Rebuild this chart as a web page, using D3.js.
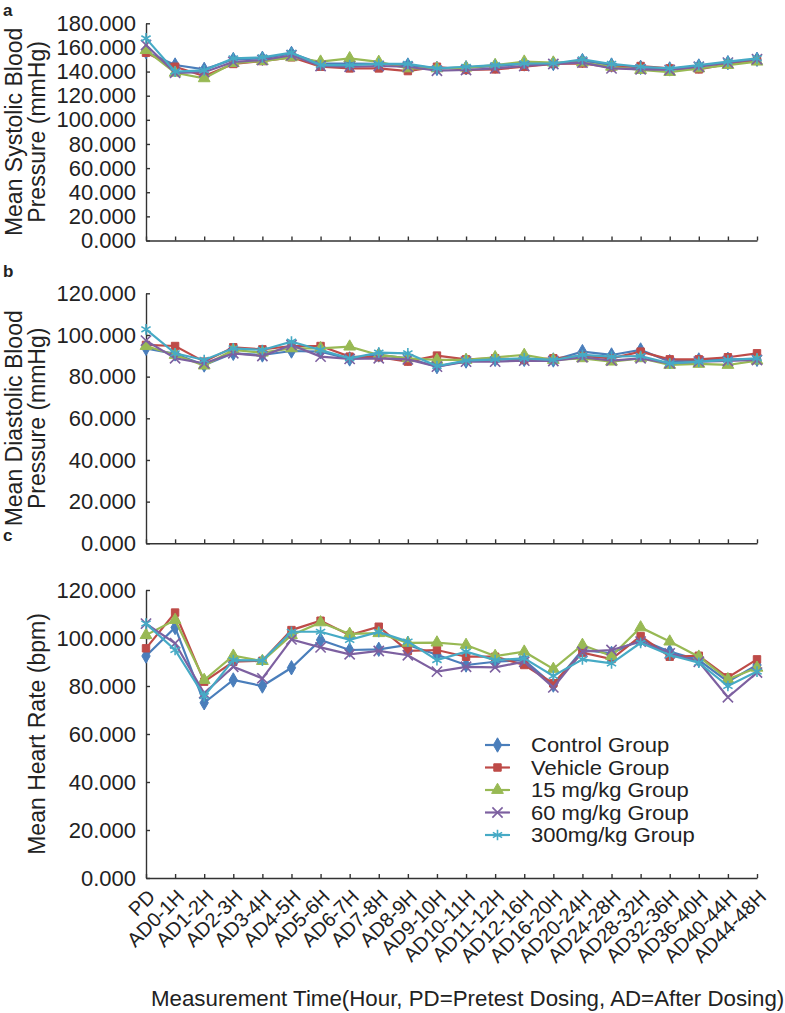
<!DOCTYPE html>
<html><head><meta charset="utf-8">
<script src="https://cdn.jsdelivr.net/npm/d3@7"></script>
<style>
body{margin:0;background:#fff;}
text{font-family:"Liberation Sans",Arial,sans-serif;fill:#222;}
</style></head>
<body><svg id="c" width="785" height="1013"></svg>
<script>
const categories = ["PD","AD0-1H","AD1-2H","AD2-3H","AD3-4H","AD4-5H","AD5-6H","AD6-7H","AD7-8H","AD8-9H","AD9-10H","AD10-11H","AD11-12H","AD12-16H","AD16-20H","AD20-24H","AD24-28H","AD28-32H","AD32-36H","AD36-40H","AD40-44H","AD44-48H"];
const groups = ["Control Group","Vehicle Group","15 mg/kg Group","60 mg/kg Group","300mg/kg Group"];

// Panel a: systolic BP
const sbpControl = [156.5,145.4,141.8,150,151,155,146.7,146.7,146.3,145.4,142.6,143.2,144.5,146.3,146.7,149.1,145.4,143.5,142.2,144.6,147.4,150.2];
const sbpVehicle = [155.6,144,136.3,146.3,148.7,151.8,144,142.6,142.6,140.4,144,141.3,141.8,144,146.3,146.7,143.5,144.6,142.6,141.8,146.3,149.1];
const sbp15 = [157.8,139,134.4,147,148.7,151.8,148.2,151,148,142.6,142.6,143.2,145.4,148.2,147.4,147.4,144,141.3,139.6,142.6,145.4,148.2];
const sbp60 = [162,139,139.5,148,149.5,153.5,144.6,144,144.6,144,140.7,141.3,142.6,144.6,146.3,147.4,142.6,141.8,141.3,144,147.4,150.2];
const sbp300 = [167.5,140,141,151,151.8,155.6,145.4,145.4,146.3,146.3,142.6,144,145.4,146.7,146.7,150.2,146.3,144,142.6,145.4,148.2,151];

// Panel b: diastolic BP
const dbpControl = [93.6,90.9,85.6,91.2,90.4,92.3,92,88.5,90.4,88.8,84.8,87.5,88.3,88.3,88,92,90.4,92.8,87.2,88,88.3,88.3];
const dbpVehicle = [95.2,94.7,87.2,94.1,93.1,94.7,94.7,89.6,89.3,87.2,90.1,88.3,88.8,88,88.8,89.9,88.8,92,88.3,88.3,89.3,91.2];
const dbp15 = [94.7,90.4,85.3,92.8,91.5,93.6,93.6,94.4,90.4,88.8,88,88,89.3,90.4,88,88.8,87.2,88.8,85.6,86.1,85.6,87.7];
const dbp60 = [97.3,88.8,86.4,91.2,89.9,95.2,89.6,88.5,88.8,88.3,84.8,87.2,87.2,87.7,87.5,89.3,87.7,88.8,86.4,87.2,87.5,88];
const dbp300 = [102.7,91.2,88,93.6,92.8,96.8,92.8,88.8,91.5,91.2,85.1,87.7,88.3,88.8,88,90.4,89.6,89.9,86.4,87.2,88,88.8];

// Panel c: heart rate
const hrControl = [92.5,104.4,73,82.5,80,87.6,99.2,95,95.3,97.1,93,88.75,90.1,90.8,80.4,95,93.6,99.4,94.3,90.8,81.8,88.75];
const hrVehicle = [95.7,110.6,81.8,90.1,90.5,103.3,107.2,101.2,104.7,94.6,95,92.2,92.2,88.75,81.1,93.9,91.25,100.8,92.2,92.6,83.6,91.1];
const hr15 = [101.2,107.5,82.5,92.6,90.4,101.2,106.5,101.7,102,98,98.1,97.1,92.5,94.3,87.1,97.1,92.5,104.4,98.5,92.2,82.8,87.6];
const hr60 = [106,97.8,77,88,83.2,99.4,96.1,93.2,94.6,92.8,86,88,87.8,90.1,79.4,94.3,95,98.5,93.6,90.1,75.3,85.6];
const hr300 = [106,95,75.8,90.8,90.6,102.6,102.6,99.2,102.5,98.5,90.8,94.3,90.8,91.5,84.2,91.1,89.4,98,92.9,89.7,80,86];

const ticksA = [0,20,40,60,80,100,120,140,160,180];
const ticksBC = [0,20,40,60,80,100,120];

const colors = ["#4a7ebb","#be4b48","#98b954","#7d60a0","#46aac5"];
const symbols = [
  {t:d3.symbolDiamond, s:60, fill:true},
  {t:d3.symbolSquare, s:55, fill:true},
  {t:d3.symbolTriangle, s:60, fill:true},
  {t:d3.symbolTimes, s:70, fill:false},
  {t:d3.symbolAsterisk, s:80, fill:false}
];

const svg = d3.select("#c");
const x = d3.scalePoint().domain(categories).range([146, 757]).padding(0);

const panels = [
  {label:"a", series:[sbpControl,sbpVehicle,sbp15,sbp60,sbp300], max:180, ticks:ticksA, y0:240.5, y1:23.3, title:["Mean Systolic Blood","Pressure (mmHg)"], labelY:16},
  {label:"b", series:[dbpControl,dbpVehicle,dbp15,dbp60,dbp300], max:120, ticks:ticksBC, y0:543.3, y1:293.3, title:["Mean Diastolic Blood","Pressure (mmHg)"], labelY:277},
  {label:"c", series:[hrControl,hrVehicle,hr15,hr60,hr300], max:120, ticks:ticksBC, y0:878, y1:590, title:["Mean Heart Rate (bpm)"], labelY:541}
];

function drawMarker(g, k, cx, cy){
  const sym = symbols[k];
  g.append("path")
    .attr("d", d3.symbol().type(sym.t).size(sym.s)())
    .attr("transform", `translate(${cx},${cy})`)
    .attr("fill", sym.fill ? colors[k] : "none")
    .attr("stroke", colors[k])
    .attr("stroke-width", sym.fill ? 1 : 1.6);
}

panels.forEach((p, pi) => {
  const y = d3.scaleLinear().domain([0, p.max]).range([p.y0, p.y1]);
  const g = svg.append("g");
  // y axis
  const ya = g.append("g").attr("transform", `translate(146,0)`)
    .call(d3.axisLeft(y).tickValues(p.ticks).tickSizeInner(-4).tickSizeOuter(0).tickPadding(10).tickFormat(d3.format(".3f")));
  ya.attr("font-size", 22).attr("font-family", "'Liberation Sans',Arial,sans-serif");
  ya.selectAll("text").attr("font-size", 22).style("font-size","22px").attr("fill","#222");
  ya.selectAll("line,path").attr("stroke","#333").attr("stroke-width",1.4);
  // x axis
  const xa = g.append("g").attr("transform", `translate(0,${p.y0})`)
    .call(d3.axisBottom(x).tickSizeInner(-4).tickSizeOuter(0).tickFormat(""));
  xa.selectAll("line,path").attr("stroke","#333").attr("stroke-width",1.4);
  if (pi === 2) {
    xa.attr("font-size", 20).attr("font-family", "'Liberation Sans',Arial,sans-serif");
    xa.selectAll(".tick").append("text")
      .text(d => d)
      .attr("transform", "translate(5,15) rotate(-45)")
      .attr("text-anchor","end")
      .attr("dy","0.35em")
      .style("font-size","20px")
      .attr("fill","#222");
  }
  // y title
  const cy = (p.y0 + p.y1) / 2;
  if (p.title.length === 2) {
    g.append("text").attr("transform",`translate(22,${cy}) rotate(-90)`).attr("text-anchor","middle").style("font-size","23px").text(p.title[0]);
    g.append("text").attr("transform",`translate(45,${cy}) rotate(-90)`).attr("text-anchor","middle").style("font-size","23px").text(p.title[1]);
  } else {
    g.append("text").attr("transform",`translate(45,${cy}) rotate(-90)`).attr("text-anchor","middle").style("font-size","23px").text(p.title[0]);
  }
  // panel label
  g.append("text").attr("x",3).attr("y",p.labelY).style("font-size","17px").style("font-weight","bold").text(p.label);
  // series
  const line = d3.line().x((d,i) => x(categories[i])).y(d => y(d));
  p.series.forEach((s, k) => {
    g.append("path").datum(s).attr("d", line).attr("fill","none").attr("stroke",colors[k]).attr("stroke-width",2.2);
    s.forEach((v, i) => drawMarker(g, k, x(categories[i]), y(v)));
  });
});

// legend
const legY = [745, 767.5, 790, 812.5, 835];
groups.forEach((name, k) => {
  const lg = svg.append("g");
  lg.append("line").attr("x1",485).attr("x2",510).attr("y1",legY[k]).attr("y2",legY[k]).attr("stroke",colors[k]).attr("stroke-width",2.2);
  drawMarker(lg, k, 497.5, legY[k]);
  lg.append("text").attr("transform",`translate(531,${legY[k]}) scale(1.1,1)`).attr("dy","0.35em").style("font-size","20px").text(name);
});

// x title
svg.append("text").attr("x",151).attr("y",1006).style("font-size","22.3px")
  .text("Measurement Time(Hour, PD=Pretest Dosing, AD=After Dosing)");
</script></body></html>
